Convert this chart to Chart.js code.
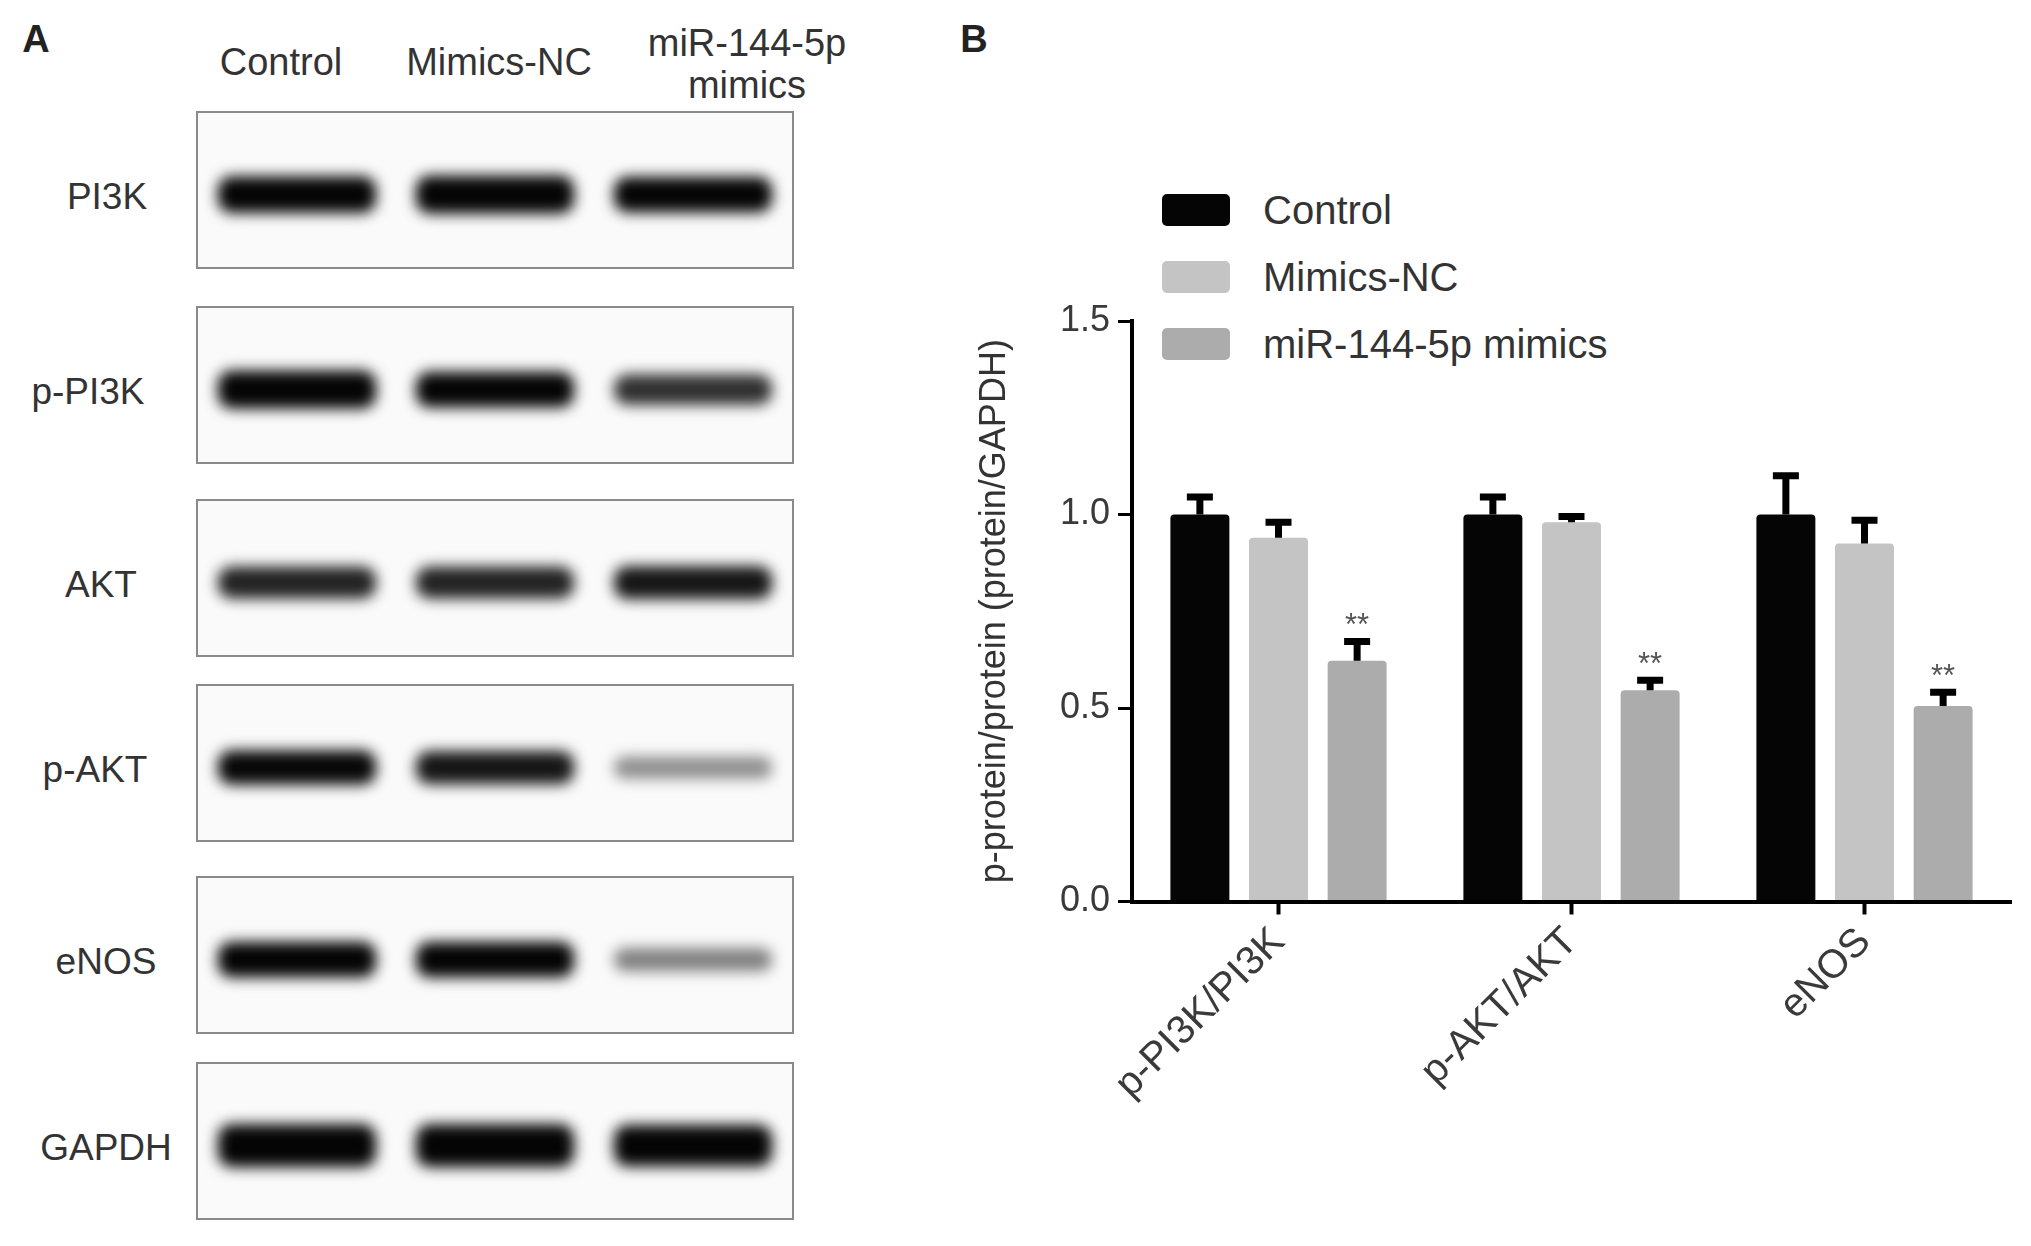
<!DOCTYPE html>
<html>
<head>
<meta charset="utf-8">
<script src="https://cdn.jsdelivr.net/npm/chart.js@4.4.1/dist/chart.umd.min.js"></script>
<style>
  body { margin: 0; background: #fff; width: 2031px; height: 1246px; position: relative; overflow: hidden;
         font-family: "Liberation Sans", Arial, sans-serif; color: #333; }
  .abs { position: absolute; white-space: nowrap; }
  .panel { font-weight: bold; font-size: 38px; color: #222; transform: translate(-50%, -50%); }
  .lane { font-size: 38px; text-align: center; line-height: 42px; transform: translate(-50%, -50%); }
  .rowlab { font-size: 37px; transform: translate(-50%, -50%); }
  .blot { position: absolute; left: 196px; width: 594px; height: 154px; border: 2px solid #8a8a8a;
          background: #fafafa; overflow: hidden; }
  .blot canvas { filter: blur(7px); }
  .leg { position: absolute; left: 1162px; display: flex; align-items: center; font-size: 40px; color: #333; }
  .sw { width: 68px; height: 32px; border-radius: 5px; margin-right: 33px; }
  #chartB { position: absolute; left: 960px; top: 0; }
</style>
</head>
<body>

<div class="abs panel" style="left:36px;top:39px">A</div>
<div class="abs panel" style="left:974px;top:39px">B</div>

<div class="abs lane" style="left:281px;top:62px">Control</div>
<div class="abs lane" style="left:499px;top:62px">Mimics-NC</div>
<div class="abs lane" style="left:747px;top:64px">miR-144-5p<br>mimics</div>

<div id="blots"></div>
<div id="legend"></div>

<canvas id="chartB" width="1071" height="1246"></canvas>

<script>
// --- 데이터 ---
const groups = ['Control', 'Mimics-NC', 'miR-144-5p mimics'];
const groupColors = ['#050505', '#c4c4c4', '#acacac'];

const categories = ['p-PI3K/PI3K', 'p-AKT/AKT', 'eNOS'];
const controlMean = [1.00, 1.00, 1.00];
const controlErr  = [0.045, 0.045, 0.10];
const ncMean      = [0.94, 0.98, 0.925];
const ncErr       = [0.04, 0.015, 0.06];
const mirMean     = [0.622, 0.546, 0.505];
const mirErr      = [0.05, 0.026, 0.036];
const mirStars    = ['**', '**', '**'];
const yTicks      = [0, 0.5, 1.0, 1.5];

// 블롯 밴드 신호 (레인: Control, Mimics-NC, miR-144-5p mimics)
const blotProteins = ['PI3K', 'p-PI3K', 'AKT', 'p-AKT', 'eNOS', 'GAPDH'];
const bandPI3K  = [1.0, 1.05, 0.95];
const bandPPI3K = [1.05, 0.95, 0.75];
const bandAKT   = [0.8, 0.8, 0.85];
const bandPAKT  = [0.9, 0.85, 0.4];
const bandENOS  = [0.95, 0.95, 0.45];
const bandGAPDH = [1.25, 1.25, 1.2];
const bandSignals = [bandPI3K, bandPPI3K, bandAKT, bandPAKT, bandENOS, bandGAPDH];

// --- 블롯 패널 ---
const blotTops = [111, 306, 499, 684, 876, 1062];
const labelX = [107, 88, 101, 95, 106, 106];
const blotsEl = document.getElementById('blots');
blotProteins.forEach((p, i) => {
  const box = document.createElement('div');
  box.className = 'blot';
  box.style.top = blotTops[i] + 'px';
  box.innerHTML = `<canvas id="blot${i}" width="594" height="154"></canvas>`;
  blotsEl.appendChild(box);
  const lab = document.createElement('div');
  lab.className = 'abs rowlab';
  lab.style.left = labelX[i] + 'px';
  lab.style.top = (blotTops[i] + 86) + 'px';
  lab.textContent = p;
  blotsEl.appendChild(lab);
});

function drawBlot(id, signal) {
  new Chart(document.getElementById(id), {
    type: 'bar',
    data: {
      labels: groups,
      datasets: [{
        data: signal.map(v => [47 - (4 + 8 * v), 47 + (4 + 8 * v)]),
        backgroundColor: signal.map(v => `rgba(5,5,5,${Math.min(1, v * 1.1)})`),
        borderRadius: 14,
        borderSkipped: false,
        categoryPercentage: 1,
        barPercentage: 0.8
      }]
    },
    options: {
      responsive: false, animation: false, events: [],
      layout: { padding: 0 },
      plugins: { legend: { display: false }, tooltip: { enabled: false } },
      scales: { x: { display: false }, y: { display: false, min: 0, max: 100 } }
    }
  });
}
bandSignals.forEach((s, i) => drawBlot('blot' + i, s));

// --- 범례 ---
const legendTops = [210, 277, 344];
document.getElementById('legend').innerHTML = groups.map((g, i) => `
  <div class="leg" style="top:${legendTops[i] - 24}px;height:48px">
    <div class="sw" style="background:${groupColors[i]}"></div><span>${g}</span>
  </div>`).join('');

// --- 에러바 + 유의성 표시 ---
const errorBars = {
  id: 'errorBars',
  afterDatasetsDraw(chart) {
    const ctx = chart.ctx;
    const y = chart.scales.y;
    chart.data.datasets.forEach((ds, i) => {
      const meta = chart.getDatasetMeta(i);
      meta.data.forEach((bar, j) => {
        const top = y.getPixelForValue(ds.data[j] + ds.errors[j]);
        const base = y.getPixelForValue(ds.data[j]);
        ctx.save();
        ctx.strokeStyle = '#000';
        ctx.lineWidth = 7;
        ctx.beginPath();
        ctx.moveTo(bar.x, base);
        ctx.lineTo(bar.x, top);
        ctx.moveTo(bar.x - 13, top);
        ctx.lineTo(bar.x + 13, top);
        ctx.stroke();
        if (ds.stars && ds.stars[j]) {
          ctx.fillStyle = '#555';
          ctx.font = '31px "Liberation Sans", Arial, sans-serif';
          ctx.textAlign = 'center';
          ctx.textBaseline = 'alphabetic';
          ctx.fillText(ds.stars[j], bar.x, top - 6);
        }
        ctx.restore();
      });
    });
  }
};

const means = [controlMean, ncMean, mirMean];
const errs = [controlErr, ncErr, mirErr];
const font = { family: '"Liberation Sans", Arial, sans-serif', size: 36 };

new Chart(document.getElementById('chartB'), {
  type: 'bar',
  data: {
    labels: categories,
    datasets: groups.map((g, i) => ({
      label: g,
      data: means[i],
      errors: errs[i],
      stars: i === 2 ? mirStars : null,
      backgroundColor: groupColors[i],
      borderRadius: 4,
      categoryPercentage: 0.805,
      barPercentage: 0.75
    }))
  },
  options: {
    responsive: false, animation: false, events: [],
    layout: { padding: { left: 0, top: 321, right: 20, bottom: 94.5 } },
    plugins: { legend: { display: false }, tooltip: { enabled: false } },
    scales: {
      x: {
        afterFit: s => { s.height = 250; },
        grid: { display: true, drawOnChartArea: false, drawTicks: true, tickLength: 13,
                tickWidth: 4, tickColor: '#000', offset: false },
        border: { display: true, color: '#000', width: 4, z: 1 },
        ticks: { color: '#3a3a3a', font: { ...font, size: 40 }, minRotation: 45, maxRotation: 45,
                 autoSkip: false, padding: 4 }
      },
      y: {
        min: 0, max: 1.5,
        afterFit: s => { s.width = 172; },
        afterBuildTicks: s => { s.ticks = yTicks.map(v => ({ value: v })); },
        grid: { display: true, drawOnChartArea: false, drawTicks: true, tickLength: 14,
                tickWidth: 3, tickColor: '#000' },
        border: { display: true, color: '#000', width: 4, z: 1 },
        ticks: { color: '#3a3a3a', font, padding: 8, callback: v => Number(v).toFixed(1) },
        title: { display: true, text: 'p-protein/protein (protein/GAPDH)', color: '#333',
                 font, padding: { top: 13, bottom: 0 } }
      }
    }
  },
  plugins: [errorBars]
});
</script>
</body>
</html>
